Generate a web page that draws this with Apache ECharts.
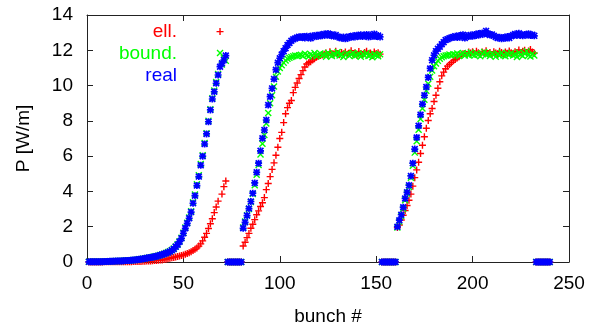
<!DOCTYPE html>
<html>
<head>
<meta charset="utf-8">
<script src="https://cdn.jsdelivr.net/npm/echarts@6/dist/echarts.min.js"></script>
<style>
html,body{margin:0;padding:0;background:#fff;}
#chart{width:592px;height:331px;}
</style>
</head>
<body>
<div id="chart"></div>
<script>
// first bunch of each 72-bunch train, and first bunch of each 8-bunch gap
const trainStart = [1, 81, 161];
const gapStart = [73, 153, 233];
const gapValues = [0, 0, 0, 0, 0, 0, 0, 0];

const xTicks = [0, 50, 100, 150, 200, 250];
const yTicks = [0, 2, 4, 6, 8, 10, 12, 14];

// ell. (red)
const ellTrain1 = [
  0.00,0.00,0.00,0.00,0.00,0.00,0.00,0.00,0.01,0.01,
  0.01,0.01,0.01,0.01,0.01,0.01,0.01,0.02,0.02,0.02,
  0.02,0.02,0.02,0.03,0.03,0.03,0.03,0.03,0.04,0.04,
  0.05,0.05,0.06,0.07,0.08,0.09,0.10,0.11,0.12,0.14,
  0.16,0.19,0.21,0.24,0.26,0.29,0.31,0.34,0.37,0.40,
  0.44,0.48,0.53,0.58,0.65,0.72,0.80,0.90,1.03,1.20,
  1.40,1.62,1.90,2.17,2.45,2.80,3.12,3.45,13.06,3.85,
  4.27,4.59];
const ellTrain2 = [
  0.91,1.12,1.38,1.62,1.91,2.14,2.40,2.68,2.90,3.15,
  3.36,3.65,4.10,4.45,4.84,5.25,5.62,6.05,6.50,7.00,
  7.35,7.90,8.40,8.75,9.00,9.15,9.60,9.90,10.15,10.40,
  10.62,10.85,11.05,11.22,11.30,11.35,11.45,11.52,11.60,11.66,
  11.70,11.73,11.78,11.85,11.72,11.92,11.80,11.76,11.95,11.82,
  11.74,11.88,11.80,11.90,11.75,11.84,11.98,11.78,11.86,11.72,
  11.93,11.81,11.76,11.88,11.95,11.79,11.84,11.70,11.90,11.82,
  11.86,11.78];
const ellTrain3 = [
  1.95,2.10,2.38,2.65,2.92,3.20,3.50,3.85,4.30,4.78,
  5.22,5.65,6.15,6.62,7.10,7.58,8.02,8.40,8.70,9.10,
  9.45,9.85,10.22,10.55,10.76,10.95,11.10,11.20,11.30,11.40,
  11.48,11.56,11.64,11.72,11.80,11.82,11.76,11.90,11.85,11.92,
  11.80,11.95,11.86,11.78,11.90,11.84,11.98,11.82,11.88,11.76,
  11.92,11.85,11.80,11.94,11.87,11.78,11.90,11.83,11.96,11.86,
  11.80,11.92,11.88,12.02,11.85,11.95,12.00,11.88,11.96,12.04,
  11.90,11.84];

// bound. (green)
const boundTrain1 = [
  0.01,0.01,0.01,0.01,0.02,0.02,0.02,0.02,0.03,0.03,
  0.03,0.04,0.04,0.04,0.05,0.05,0.06,0.06,0.07,0.08,
  0.08,0.09,0.10,0.11,0.12,0.13,0.15,0.16,0.18,0.20,
  0.22,0.24,0.26,0.28,0.31,0.33,0.36,0.39,0.43,0.47,
  0.51,0.56,0.61,0.68,0.76,0.88,1.01,1.18,1.38,1.66,
  1.95,2.22,2.52,2.88,3.38,3.82,4.40,4.92,5.55,6.05,
  6.75,7.30,8.00,8.66,9.28,9.72,10.20,10.66,11.85,11.20,
  11.55,11.40];
const boundTrain2 = [
  1.95,2.30,2.65,3.00,3.40,3.85,4.35,4.95,5.50,6.10,
  6.70,7.20,7.85,8.45,9.00,9.45,9.95,10.50,10.80,11.00,
  11.15,11.30,11.42,11.52,11.58,11.62,11.66,11.70,11.68,11.72,
  11.74,11.68,11.80,11.72,11.65,11.78,11.70,11.84,11.66,11.75,
  11.82,11.70,11.77,11.64,11.86,11.73,11.68,11.80,11.75,11.90,
  11.70,11.78,11.62,11.74,11.82,11.69,11.76,11.85,11.67,11.73,
  11.80,11.64,11.77,11.71,11.84,11.68,11.75,11.60,11.79,11.72,
  11.66,11.78];
const boundTrain3 = [
  1.95,2.30,2.62,3.02,3.50,3.88,4.25,4.78,5.45,6.20,
  6.85,7.50,8.10,8.70,9.20,9.70,10.10,10.50,10.85,11.10,
  11.25,11.40,11.52,11.60,11.66,11.70,11.72,11.76,11.70,11.78,
  11.74,11.82,11.68,11.77,11.85,11.70,11.80,11.72,11.88,11.75,
  11.70,11.83,11.76,11.66,11.80,11.90,11.74,11.78,11.68,11.82,
  11.75,11.64,11.79,11.70,11.86,11.72,11.66,11.80,11.74,11.84,
  11.70,11.78,11.62,11.88,11.75,11.68,11.82,11.95,11.72,11.65,
  11.80,11.70];

// real (blue)
const realTrain1 = [
  0.01,0.01,0.01,0.01,0.02,0.02,0.02,0.02,0.03,0.03,
  0.03,0.04,0.04,0.04,0.05,0.05,0.06,0.06,0.07,0.08,
  0.08,0.09,0.10,0.11,0.12,0.13,0.15,0.16,0.18,0.20,
  0.22,0.24,0.26,0.28,0.30,0.32,0.35,0.38,0.42,0.46,
  0.50,0.54,0.59,0.66,0.74,0.86,0.98,1.15,1.34,1.63,
  1.91,2.19,2.48,2.83,3.33,3.76,4.33,4.84,5.48,6.00,
  6.69,7.26,7.95,8.62,9.24,9.65,10.13,10.60,11.07,11.26,
  11.45,11.70];
const realTrain2 = [
  1.91,2.25,2.63,3.03,3.43,3.90,4.48,5.08,5.60,6.30,
  7.01,7.48,8.05,8.90,9.37,9.84,10.37,10.90,11.30,11.55,
  11.76,11.95,12.12,12.30,12.42,12.54,12.62,12.67,12.72,12.77,
  12.72,12.78,12.70,12.80,12.75,12.68,12.82,12.77,12.85,12.80,
  12.88,12.83,12.92,12.86,12.95,12.84,12.90,12.80,12.86,12.78,
  12.72,12.68,12.75,12.65,12.70,12.78,12.74,12.82,12.76,12.85,
  12.80,12.88,12.78,12.84,12.90,12.76,12.86,12.80,12.92,12.78,
  12.84,12.76];
const realTrain3 = [
  2.00,2.37,2.68,3.10,3.60,3.95,4.35,4.88,5.60,6.40,
  7.06,7.72,8.35,8.95,9.45,9.92,10.46,10.97,11.44,11.72,
  11.95,12.08,12.20,12.34,12.46,12.58,12.63,12.68,12.72,12.76,
  12.80,12.72,12.84,12.76,12.88,12.70,12.82,12.78,12.86,12.80,
  12.90,12.84,12.95,12.88,12.98,12.92,13.10,12.94,12.86,12.90,
  12.82,12.76,12.70,12.74,12.66,12.72,12.68,12.78,12.70,12.80,
  12.86,12.92,12.84,12.96,12.88,12.82,12.90,12.86,12.94,12.84,
  12.88,12.82];

function buildPoints(trains) {
  const pts = [];
  trains.forEach((vals, t) => {
    vals.forEach((v, i) => pts.push([trainStart[t] + i, v]));
    gapValues.forEach((v, i) => pts.push([gapStart[t] + i, v]));
  });
  return pts;
}

const plusPath = 'path://M4,0L6,0L6,4L10,4L10,6L6,6L6,10L4,10L4,6L0,6L0,4L4,4Z';
const crossPath = 'path://M1.4,0L5,3.6L8.6,0L10,1.4L6.4,5L10,8.6L8.6,10L5,6.4L1.4,10L0,8.6L3.6,5L0,1.4Z';
const starPath = 'path://M3.8,0L6.2,0L6.2,3.8L10,3.8L10,6.2L6.2,6.2L6.2,10L3.8,10L3.8,6.2L0,6.2L0,3.8L3.8,3.8Z' +
  'M1.7,0L5,3.3L8.3,0L10,1.7L6.7,5L10,8.3L8.3,10L5,6.7L1.7,10L0,8.3L3.3,5L0,1.7Z';

const font = 'Liberation Sans, Arial, Helvetica, sans-serif';
const frameColor = '#222';

function axisCommon(extra) {
  return Object.assign({
    type: 'value',
    axisLine: { show: true, onZero: false, lineStyle: { color: frameColor, width: 1 } },
    axisTick: { show: true, inside: true, length: 6, lineStyle: { color: frameColor, width: 1 } },
    splitLine: { show: false }
  }, extra);
}

const chart = echarts.init(document.getElementById('chart'), null, { renderer: 'canvas' });
chart.setOption({
  animation: false,
  backgroundColor: '#fff',
  textStyle: { fontFamily: font },
  grid: { left: 87, right: 23, top: 15, bottom: 69, containLabel: false },
  legend: {
    orient: 'vertical',
    right: 410,
    top: 21,
    align: 'right',
    padding: 0,
    itemGap: 0,
    itemWidth: 0,
    itemHeight: 0,
    selectedMode: false,
    icon: 'none',
    textStyle: { fontSize: 19, lineHeight: 22, fontFamily: font },
    data: [
      { name: 'ell.', textStyle: { color: '#ff0000' } },
      { name: 'bound.', textStyle: { color: '#00ff00' } },
      { name: 'real', textStyle: { color: '#0000ff' } }
    ]
  },
  xAxis: [
    axisCommon({
      position: 'bottom', min: xTicks[0], max: xTicks[xTicks.length - 1], interval: xTicks[1] - xTicks[0],
      axisLabel: { margin: 12, fontSize: 19, color: '#000', fontFamily: font },
      name: 'bunch #', nameLocation: 'middle', nameGap: 45,
      nameTextStyle: { fontSize: 19, color: '#000', fontFamily: font }
    }),
    axisCommon({
      position: 'top', min: xTicks[0], max: xTicks[xTicks.length - 1], interval: xTicks[1] - xTicks[0],
      axisLabel: { show: false }
    })
  ],
  yAxis: [
    axisCommon({
      position: 'left', min: yTicks[0], max: yTicks[yTicks.length - 1], interval: yTicks[1] - yTicks[0],
      axisLabel: { margin: 14, fontSize: 19, color: '#000', fontFamily: font },
      name: 'P [W/m]', nameLocation: 'middle', nameGap: 54,
      nameTextStyle: { fontSize: 19, color: '#000', fontFamily: font }
    }),
    axisCommon({
      position: 'right', min: yTicks[0], max: yTicks[yTicks.length - 1], interval: yTicks[1] - yTicks[0],
      axisLabel: { show: false }
    })
  ],
  series: [
    {
      name: 'ell.', type: 'scatter', xAxisIndex: 0, yAxisIndex: 0,
      data: buildPoints([ellTrain1, ellTrain2, ellTrain3]),
      symbol: plusPath, symbolSize: 7, z: 2,
      itemStyle: { color: '#ff0000', opacity: 1 }, emphasis: { disabled: true }, silent: true
    },
    {
      name: 'bound.', type: 'scatter', xAxisIndex: 0, yAxisIndex: 0,
      data: buildPoints([boundTrain1, boundTrain2, boundTrain3]),
      symbol: crossPath, symbolSize: 7, z: 3,
      itemStyle: { color: '#00ff00', opacity: 1 }, emphasis: { disabled: true }, silent: true
    },
    {
      name: 'real', type: 'scatter', xAxisIndex: 0, yAxisIndex: 0,
      data: buildPoints([realTrain1, realTrain2, realTrain3]),
      symbol: starPath, symbolSize: 7, z: 4,
      itemStyle: { color: '#0000ff', opacity: 1 }, emphasis: { disabled: true }, silent: true
    }
  ]
});
</script>
</body>
</html>
